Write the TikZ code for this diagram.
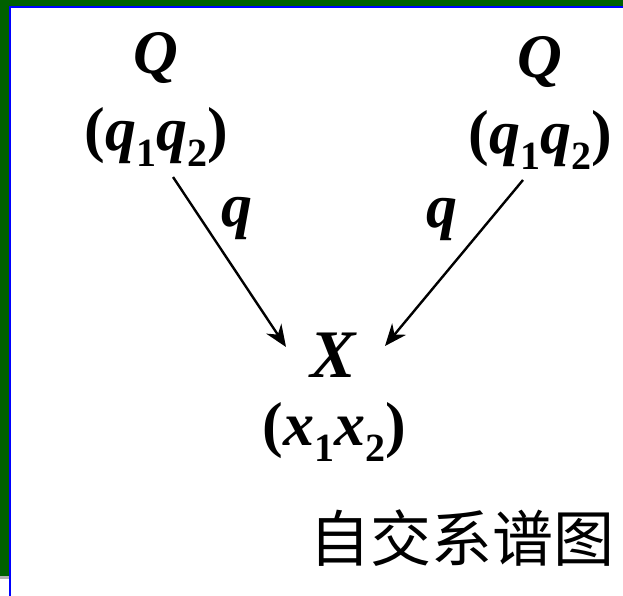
\documentclass[tikz,border=0pt]{standalone}
\usepackage{fontspec}
\setmainfont{Liberation Serif}
\newfontfamily\cjk{Noto Sans CJK SC}
\usetikzlibrary{arrows.meta}
\definecolor{frameGreen}{HTML}{006000}
\definecolor{frameBlue}{HTML}{0000FF}
\newcommand{\bi}[1]{\textbf{\textit{#1}}}
\newcommand{\bsub}[1]{\raisebox{-0.25em}{\fontsize{40}{40}\selectfont\textbf{#1}}}
\begin{document}
\begin{tikzpicture}[x=1pt,y=-1pt,
  lbl/.style={inner sep=0pt,font=\fontsize{62}{62}\selectfont},
  arr/.style={line width=2.4pt,-{Stealth[length=22pt,width=18pt]}}]
\useasboundingbox (0,0) rectangle (623,596);
\fill[white] (0,0) rectangle (623,596);
% frame
\fill[frameGreen] (0,0) rectangle (623,6);
\fill[frameGreen] (0,0) rectangle (9,576);
\fill[black!30] (0,576) rectangle (9,579);
\fill[frameBlue] (9,6) rectangle (623,8);
\fill[frameBlue] (9,6) rectangle (11,596);
% nodes
\node[lbl] (Q1) at (156,58) {\bi{Q}};
\node[lbl] (P1) at (156,137) {\textbf{(}\bi{q}\bsub{1}\bi{q}\bsub{2}\textbf{)}};
\node[lbl] (Q2) at (540,62) {\bi{Q}};
\node[lbl] (P2) at (540,140) {\textbf{(}\bi{q}\bsub{1}\bi{q}\bsub{2}\textbf{)}};
\node[lbl,font=\fontsize{68}{68}\selectfont] (X) at (334,355) {\bi{X}};
\node[lbl] (PX) at (334,432) {\textbf{(}\bi{x}\bsub{1}\bi{x}\bsub{2}\textbf{)}};
\coordinate (a1) at (173,177);
\coordinate (b1) at (286,347);
\coordinate (a2) at (523,180);
\coordinate (b2) at (385,346);
\draw[arr] (a1) -- (b1);
\draw[arr] (a2) -- (b2);
\node[lbl] (ql) at (237,218) {\bi{q}};
\node[lbl] (qr) at (442,219) {\bi{q}};
\node[inner sep=0pt,font=\cjk\fontsize{61}{61}\selectfont] (cap) at (462,538) {自交系谱图};
\end{tikzpicture}
\end{document}
